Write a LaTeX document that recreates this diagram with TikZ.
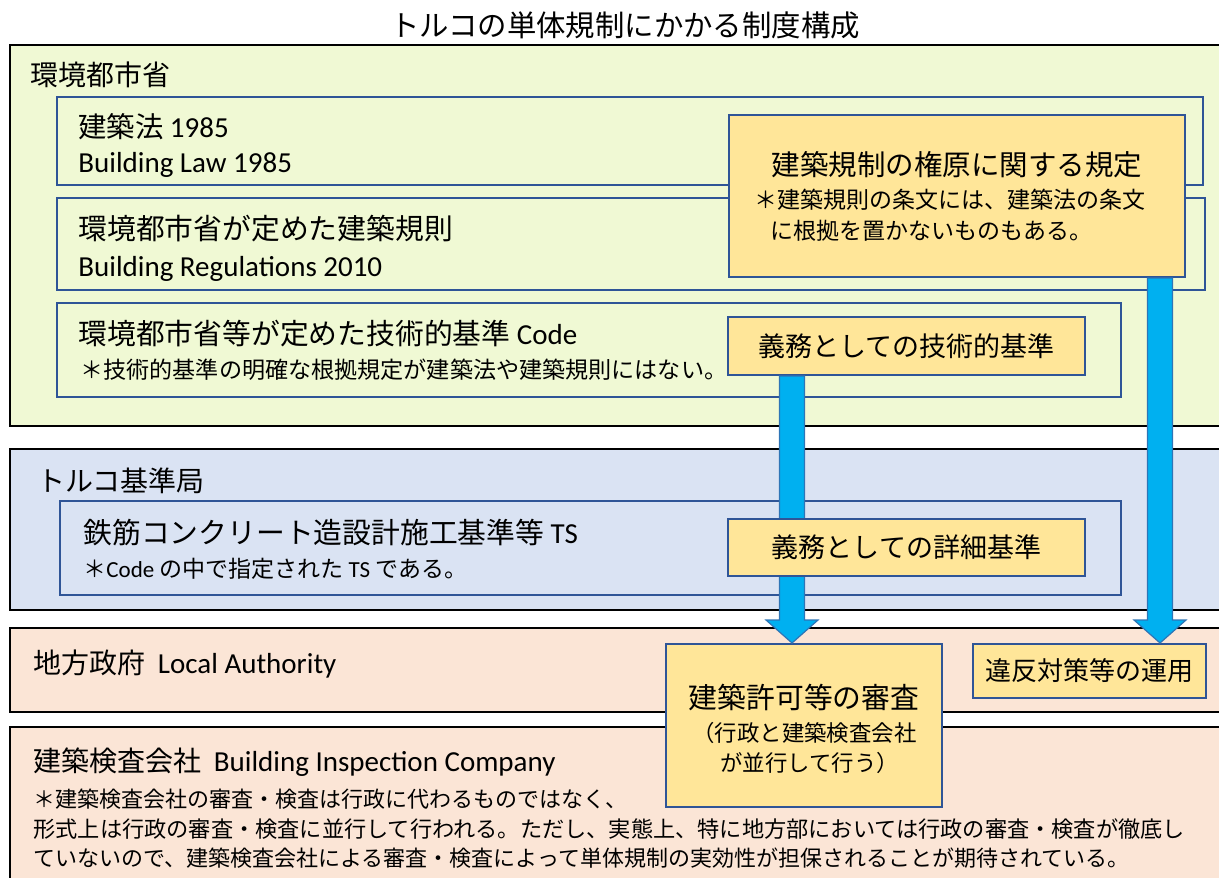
\documentclass[tikz,border=0pt]{standalone}
\usepackage{fontspec}
\setmainfont{Noto Sans CJK JP}
\newfontfamily\lat{Carlito}
\usetikzlibrary{calc}
\definecolor{greenbg}{HTML}{F0F9D4}
\definecolor{bluebg}{HTML}{DAE3F3}
\definecolor{peachbg}{HTML}{FBE5D6}
\definecolor{goldbg}{HTML}{FFE699}
\definecolor{frameblue}{HTML}{2F5597}
\definecolor{arrowfill}{HTML}{00B0F0}
\definecolor{arrowline}{HTML}{2E75B6}
\tikzset{
  outer/.style={draw=black, line width=1.2pt},
  inner/.style={draw=frameblue, line width=1pt},
  gold/.style={draw=frameblue, line width=1pt, fill=goldbg, inner sep=0pt, align=center},
  txt/.style={anchor=base west, inner sep=0pt},
  mid/.style={inner sep=0pt, align=center},
  bluearrow/.style={draw=arrowline, line width=0.6pt, fill=arrowfill},
}
\newcommand{\fsz}[1]{\fontsize{#1}{#1}\selectfont}
% wide arrow from the south of one node to the north of another, at x = #1
\newcommand{\bigarrow}[3]{%
  \draw[bluearrow] let \p1=(#2.south), \p2=(#3.north), \p3=(#1,0) in
    (\x3-6.25pt,\y1) -- (\x3+6.25pt,\y1) -- (\x3+6.25pt,\y2+11.5pt)
    -- (\x3+13pt,\y2+11.5pt) -- (\x3,\y2) -- (\x3-13pt,\y2+11.5pt)
    -- (\x3-6.25pt,\y2+11.5pt) -- cycle;}

\begin{document}
\begin{tikzpicture}[x=0.5pt,y=-0.5pt]
  \useasboundingbox (0,0) rectangle (1219,877);
  \clip (0,0) rectangle (1219,877);
  \node[mid] (title) at (625,25) {\fsz{14.7pt}トルコの単体規制にかかる制度構成};

  % ministry
  \draw[outer, fill=greenbg] (10,45) rectangle (1230,426);
  \node[txt] (ministry) at (30,86) {\fsz{14pt}環境都市省};
  \draw[inner, fill=greenbg] (57,97) rectangle (1203,185);
  \node[txt] (law) at (78,138) {\fsz{14.2pt}建築法 {\lat\fsz{14.5pt}1985}};
  \node[txt] (lawen) at (78,173) {\lat\fsz{14.5pt}Building Law 1985};
  \draw[inner, fill=greenbg] (57,198) rectangle (1205,290);
  \node[txt] (regs) at (78,240) {\fsz{14.4pt}環境都市省が定めた建築規則};
  \node[txt] (regsen) at (78,276) {\lat\fsz{14.5pt}Building Regulations 2010};
  \draw[inner, fill=greenbg] (57,303) rectangle (1121,397);
  \node[txt] (code) at (78,344) {\fsz{14.4pt}環境都市省等が定めた技術的基準 {\lat\fsz{14.5pt}Code}};
  \node[txt] (codenote) at (80,378) {\fsz{11.55pt}＊技術的基準の明確な根拠規定が建築法や建築規則にはない。};

  % standards bureau
  \draw[outer, fill=bluebg] (10,449) rectangle (1230,610);
  \node[txt] (bureau) at (37,491) {\fsz{14pt}トルコ基準局};
  \draw[inner, fill=bluebg] (60,501) rectangle (1121,595);
  \node[txt] (ts) at (83,543) {\fsz{14.4pt}鉄筋コンクリート造設計施工基準等 {\lat\fsz{14.5pt}TS}};
  \node[txt] (tsnote) at (83,577) {\fsz{11.5pt}＊{\lat Code} の中で指定された {\lat TS} である。};

  % local authority and inspection company
  \draw[outer, fill=peachbg] (10,628) rectangle (1230,712);
  \node[txt] (local) at (33,673) {\fsz{14pt}地方政府\ \ {\lat\fsz{14.5pt}Local Authority}};
  \draw[outer, fill=peachbg] (10,727) rectangle (1230,890);
  \node[txt] (company) at (33,771) {\fsz{14pt}建築検査会社\ \ {\lat\fsz{14.5pt}Building Inspection Company}};
  \node[txt] (note1) at (33,807) {\fsz{11pt}＊建築検査会社の審査・検査は行政に代わるものではなく、};
  \node[txt] (note2) at (33,837) {\fsz{11.1pt}形式上は行政の審査・検査に並行して行われる。ただし、実態上、特に地方部においては行政の審査・検査が徹底し};
  \node[txt] (note3) at (33,866) {\fsz{11pt}ていないので、建築検査会社による審査・検査によって単体規制の実効性が担保されることが期待されている。};

  % roles
  \node[gold, minimum width=228pt, minimum height=81pt] (authority) at (957,196) {};
  \node[mid] (authtitle) at (957,165) {\fsz{14.25pt}建築規制の権原に関する規定};
  \node[txt] (authnote1) at (754,209) {\fsz{11.5pt}＊建築規則の条文には、建築法の条文};
  \node[txt] (authnote2) at (770,239) {\fsz{11.5pt}に根拠を置かないものもある。};
  \node[gold, minimum width=178.5pt, minimum height=29pt] (duty) at (906.5,346) {\fsz{13.5pt}義務としての技術的基準};

  \node[gold, minimum width=138pt, minimum height=81.5pt] (review) at (804,725.5) {};
  \node[gold, minimum width=116.5pt, minimum height=27pt] (enforce) at (1089.5,671) {\fsz{13pt}違反対策等の運用};
  \bigarrow{792}{duty}{review}
  \bigarrow{1160}{authority}{enforce}
  \node[gold, minimum width=178.5pt, minimum height=28.5pt] (detail) at (906.5,547.5) {\fsz{13.5pt}義務としての詳細基準};

  \node[mid] (reviewtitle) at (804,698) {\fsz{14.4pt}建築許可等の審査};
  \node[txt] (reviewnote1) at (692,741) {\fsz{11.2pt}（行政と建築検査会社};
  \node[txt] (reviewnote2) at (720,771) {\fsz{11.2pt}が並行して行う）};
\end{tikzpicture}
\end{document}
